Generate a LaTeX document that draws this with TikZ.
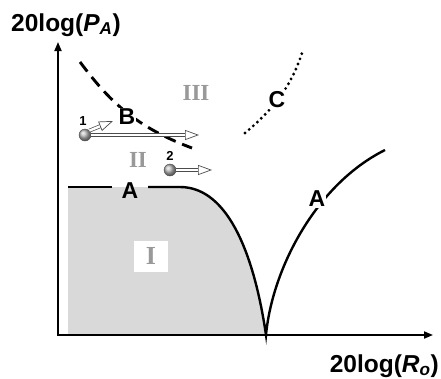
\documentclass[tikz,border=0pt]{standalone}
\usepackage{fontspec}
\setmainfont{Liberation Serif}
\setsansfont{Liberation Sans}
\usetikzlibrary{arrows.meta}

\begin{document}
\begin{tikzpicture}[x=1pt,y=-1pt,
    axis/.style={line width=1.8pt,-{Triangle[length=9pt,width=7pt]}},
    curve/.style={line width=2.4pt},
    lab/.style={font=\sffamily\bfseries\fontsize{23}{23}\selectfont,inner sep=1pt},
    region/.style={font=\fontsize{23}{23}\selectfont\bfseries,text=gray!80},
    hollow/.style={draw=gray!60!black,line width=0.7pt,double=white,double distance=2.4pt,
      -{Triangle[open,length=14pt,width=10pt,fill=white]}},
    ball/.style={circle,minimum size=12pt,inner sep=0pt,ball color=gray!55,draw=gray!60!black,line width=0.4pt},
    num/.style={font=\sffamily\bfseries\fontsize{13}{13}\selectfont,inner sep=0pt}]
        \useasboundingbox (0,0) rectangle (441,378);
        % region I
        \fill[gray!30] (68,187) -- (180,187) .. controls (230,187) and (255,260) .. (266,335) -- (68,335) -- cycle;
        \draw[axis] (58,336) -- (58,42);
        \draw[axis] (57,335) -- (433,335);
        \node[anchor=base west,font=\sffamily\bfseries\fontsize{24.5}{24}\selectfont,inner sep=0pt] (ylab) at (11,31)
            {20log(\textit{P}\textsubscript{\textit{A}})};
        \node[anchor=base east,font=\sffamily\bfseries\fontsize{24.5}{24}\selectfont,inner sep=0pt] (xlab) at (439,372)
            {20log(\textit{R}\textsubscript{\textit{o}})};
        % curve A
        \draw[curve] (68,187) -- (112,187);
        \draw[curve] (148,187) -- (180,187) .. controls (230,187) and (255,260) .. (266,335)
            .. controls (272,270) and (315,185) .. (385,150);
        \node[lab] (labA) at (130,191) {A};
        \node[lab,fill=white] (labAr) at (317,199) {A};
        % curve B
        \draw[line width=2.9pt,dash pattern=on 12pt off 7pt] (80,62) .. controls (105,95) and (130,125) .. (192,148);
        % curve C
        \draw[line width=3.2pt,line cap=round,dash pattern=on 0pt off 5.5pt] (245,133) .. controls (270,112) and (290,90) .. (302,53);
        \node[lab,fill=white] (labB) at (127,117) {B};
        \node[lab,fill=white] (labC) at (277,100) {C};
        % regions
        \node[region] (regIII) at (196,93) {III};
        \node[region] (regII) at (138,160) {II};
        \node[region,fill=white,minimum width=34pt,minimum height=31pt,font=\fontsize{26}{26}\selectfont\bfseries] (regI) at (151,256) {I};
        % operating points
        \node[ball] (ball1) at (85,135) {};
        \node[ball] (ball2) at (170,170) {};
        \draw[hollow] (ball1.east) -- (199,135);
        \draw[hollow] (ball1.north east) -- (113,121);
        \draw[hollow] (ball2.east) -- (212,170);
        \node[num] (num1) at (83,121) {1};
        \node[num] (num2) at (170,156) {2};
\end{tikzpicture}
\end{document}
